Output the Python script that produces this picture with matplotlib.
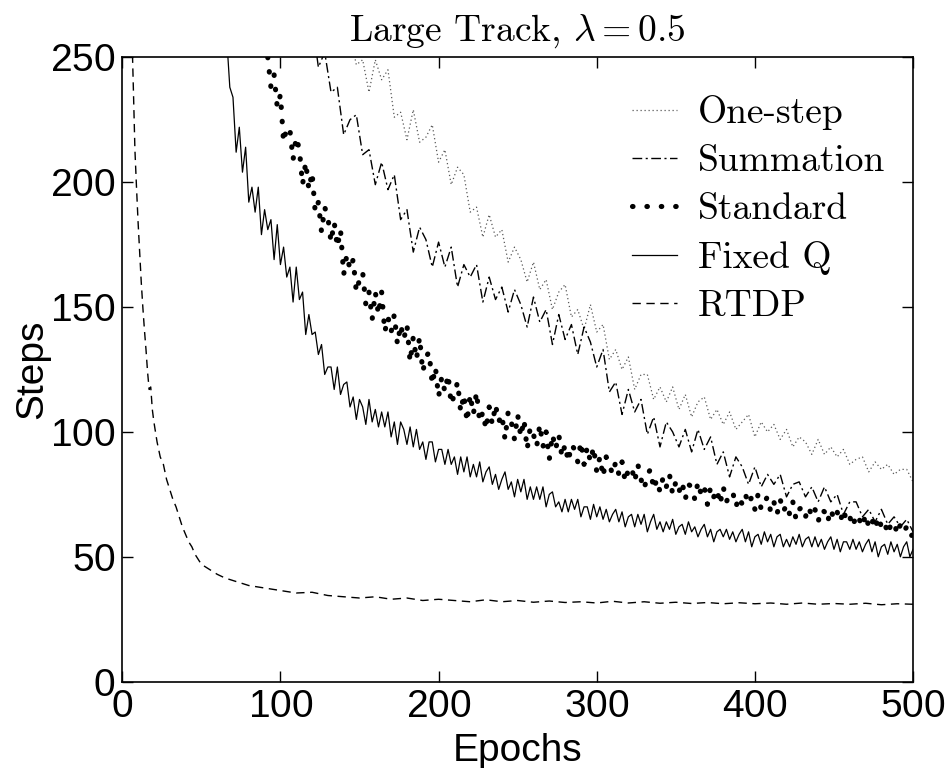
import numpy as np
import matplotlib
matplotlib.use("Agg")
import matplotlib.pyplot as plt

# values; fixed_q / standard every 2 epochs,
# summation / one_step every 4 epochs, all ending at epoch 500
fixed_q = [271, 252, 258, 238, 234, 212, 222, 204, 214, 192,
           198, 188, 198, 179, 189, 181, 185, 169, 183, 167,
           174, 162, 166, 152, 166, 153, 156, 139, 147, 139,
           140, 131, 135, 123, 126, 126, 117, 126, 115, 119,
           120, 110, 114, 105, 113, 110, 103, 113, 104, 109,
           102, 108, 102, 108, 98, 104, 95, 104, 101, 95,
           102, 94, 101, 93, 96, 89, 96, 96, 88, 93,
           93, 87, 93, 87, 90, 83, 90, 84, 90, 82,
           87, 82, 88, 80, 84, 86, 79, 83, 77, 81,
           84, 77, 80, 74, 81, 76, 81, 73, 78, 73,
           78, 73, 78, 70, 75, 76, 70, 72, 68, 73,
           68, 73, 69, 73, 66, 70, 70, 65, 71, 66,
           70, 65, 69, 64, 67, 69, 64, 68, 62, 66,
           67, 62, 67, 63, 67, 60, 64, 67, 61, 64,
           60, 64, 61, 65, 59, 62, 63, 59, 64, 60,
           62, 58, 61, 63, 58, 61, 56, 60, 61, 58,
           61, 57, 60, 56, 59, 61, 56, 60, 54, 58,
           59, 55, 60, 56, 59, 54, 58, 59, 54, 57,
           54, 58, 55, 59, 54, 57, 58, 54, 58, 54,
           57, 53, 56, 58, 53, 57, 52, 56, 56, 53,
           57, 53, 56, 52, 55, 57, 52, 56, 50, 54,
           55, 51, 56, 52, 55, 50, 54, 56, 50, 53]

standard = [250, 238, 243, 230, 235, 216, 222, 221, 209, 218,
            213, 199, 208, 197, 204, 188, 192, 180, 190, 186,
            176, 184, 174, 181, 163, 171, 165, 169, 156, 161,
            164, 151, 156, 145, 156, 147, 156, 140, 146, 140,
            147, 135, 143, 137, 143, 128, 138, 129, 138, 124,
            130, 132, 119, 126, 114, 122, 116, 123, 111, 115,
            120, 108, 115, 104, 115, 107, 116, 104, 108, 101,
            110, 103, 111, 104, 107, 97, 108, 104, 97, 107,
            98, 105, 93, 102, 99, 94, 103, 94, 100, 89,
            99, 93, 99, 90, 95, 88, 95, 93, 88, 96,
            87, 94, 88, 94, 84, 90, 82, 90, 87, 83,
            88, 83, 88, 80, 85, 86, 80, 87, 81, 77,
            83, 85, 77, 81, 76, 82, 78, 83, 75, 80,
            76, 80, 73, 79, 78, 73, 80, 75, 78, 71,
            78, 74, 77, 71, 78, 72, 75, 76, 70, 74,
            71, 75, 71, 74, 69, 75, 69, 72, 74, 68,
            72, 67, 73, 68, 71, 67, 72, 65, 69, 70,
            66, 70, 66, 69, 64, 69, 68, 64, 69, 65,
            68, 64, 69, 64, 66, 62, 67, 65, 62, 67,
            62, 65, 61, 66, 62, 64, 59, 63, 64, 59,
            63, 60, 62, 58, 59]

summation = [265, 246, 252, 236, 238, 219, 225, 227, 211, 213,
             199, 208, 197, 203, 185, 189, 172, 182, 177, 166,
             176, 166, 174, 158, 167, 162, 167, 152, 162, 153,
             158, 148, 157, 151, 142, 154, 144, 149, 135, 147,
             137, 143, 131, 142, 136, 126, 133, 116, 120, 107,
             117, 108, 113, 99, 106, 94, 104, 100, 94, 101,
             92, 101, 93, 98, 87, 92, 82, 90, 86, 79,
             86, 78, 83, 79, 83, 74, 79, 80, 74, 78,
             72, 78, 72, 75, 67, 72, 72, 66, 69, 64,
             69, 63, 66, 62, 65, 60]

one_step = [266, 251, 259, 247, 249, 236, 249, 241, 245, 226,
            228, 217, 229, 216, 218, 223, 208, 213, 199, 206,
            203, 188, 190, 178, 187, 178, 181, 168, 174, 169,
            160, 168, 157, 161, 149, 156, 159, 146, 149, 141,
            151, 140, 143, 129, 133, 125, 130, 117, 123, 123,
            113, 118, 112, 118, 109, 115, 106, 112, 114, 105,
            109, 103, 108, 101, 104, 107, 98, 104, 100, 103,
            97, 101, 94, 98, 96, 91, 97, 91, 94, 90,
            93, 87, 89, 90, 84, 88, 85, 87, 83, 85,
            85, 80]

rtdp_epochs = list(range(5, 21)) + list(range(22, 51, 2)) + list(range(55, 101, 5)) + list(range(110, 501, 10))
rtdp = [300, 262, 238, 213, 198, 184, 172, 160, 150, 141, 133, 124, 117, 118, 109, 104,
        96, 90, 87, 81, 77, 73, 70, 66, 62, 59, 56, 54, 51, 49, 47,
        45, 43, 41.5, 40.5, 39.5, 38.5, 38, 37.5, 37, 36.5,
        35.5, 35.8, 34.5, 34, 33.5, 34, 33, 33.5, 32.5, 33,
        32.5, 32, 32.8, 32, 32.5, 31.8, 32.3, 31.7, 32, 31.5,
        32.2, 31.5, 32, 31.4, 31.8, 31.3, 31.7, 31.2, 31.6, 31.2,
        31.5, 31, 31.5, 31, 31.3, 31, 31.4, 30.8, 31.2, 31]


def epochs_for(vals, step):
    return 500 - step * np.arange(len(vals))[::-1]


plt.rcParams['mathtext.fontset'] = 'cm'
plt.rcParams['axes.formatter.use_mathtext'] = True

fig = plt.figure(figsize=(9.5, 7.68), dpi=100)
ax = fig.add_axes([0.1287, 0.1124, 0.8324, 0.8130])

ax.plot(epochs_for(one_step, 4), one_step, color='0.35', lw=0.9, ls=(0, (1, 2.2)), label='One-step')
ax.plot(epochs_for(summation, 4), summation, color='k', lw=1.0, ls=(0, (7, 2.5, 1.5, 2.5)), label='Summation')
ax.plot(epochs_for(standard, 2), standard, color='k', lw=3.7, ls=(0, (0.1, 2.7)),
        dash_capstyle='round', label='Standard')
ax.plot(epochs_for(fixed_q, 2), fixed_q, color='k', lw=0.9, label='Fixed Q')
ax.plot(rtdp_epochs, rtdp, color='k', lw=1.0, ls=(0, (6, 4)), label='RTDP')

ax.set_xlim(0, 500)
ax.set_ylim(0, 250)
ax.set_xticks(range(0, 501, 100))
ax.set_yticks(range(0, 251, 50))
ax.tick_params(direction='in', length=8, width=1, top=True, right=True,
               labelsize=28, pad=5)
for lab in ax.get_xticklabels() + ax.get_yticklabels():
    lab.set_fontfamily('Liberation Sans')
for sp in ax.spines.values():
    sp.set_linewidth(1.2)

ax.set_xlabel('Epochs', fontsize=28, family='Liberation Sans', labelpad=6)
ax.set_ylabel('Steps', fontsize=28, family='Liberation Sans', labelpad=0)
ax.set_title(r'Large Track, $\lambda = 0.5$', fontsize=27, family='cmr10', pad=12)

leg = ax.legend(loc='upper right', frameon=False,
                prop={'family': 'cmr10', 'size': 27},
                handlelength=1.2, handletextpad=0.55, labelspacing=0.4,
                borderaxespad=0.35, bbox_to_anchor=(1.0, 0.985))

fig.savefig('out.png', dpi=100)
